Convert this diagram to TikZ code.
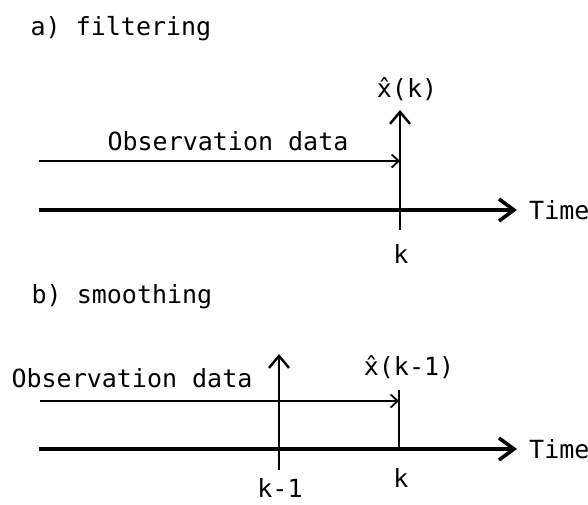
\documentclass[tikz,border=0pt]{standalone}
\usepackage{fontspec}
\setmainfont{DejaVu Sans Mono}
\usetikzlibrary{arrows.meta}
\begin{document}
\begin{tikzpicture}[x=1pt,y=-1pt,
  lbl/.style={font=\fontsize{25}{30}\selectfont, inner sep=0pt, anchor=base},
  axisline/.style={line width=4pt, -{Straight Barb[length=15pt,width=22pt,line width=3.6pt]}},
  obsline/.style={line width=1.8pt, -{Straight Barb[length=7pt,width=13pt,line width=1.8pt]}},
  estline/.style={line width=2.4pt, -{Straight Barb[length=12pt,width=20pt,line width=2.4pt]}},
  tickline/.style={line width=2.4pt}]
\path[use as bounding box] (0,0) rectangle (588,504);
% ---------- a) filtering ----------
\node[lbl] (titleA) at (121,35) {a) filtering};
\coordinate (axA0) at (39,210);
\coordinate (axA1) at (517,210);
\draw[axisline] (axA0) -- (axA1);
\node[lbl, anchor=base west] (timeA) at (529,219) {Time};
\coordinate (obA0) at (39,161);
\coordinate (obA1) at (400,161);
\draw[obsline] (obA0) -- (obA1);
\coordinate (vA0) at (400,230);
\coordinate (vA1) at (400,110);
\draw[estline] (vA0) -- (vA1);
\node[lbl] (obsA) at (228,150) {Observation data};
\node[lbl] (xk) at (407,97) {\^{x}(k)};
\node[lbl] (kA) at (401,263) {k};
% ---------- b) smoothing ----------
\node[lbl] (titleB) at (122,303) {b) smoothing};
\coordinate (axB0) at (39,449);
\coordinate (axB1) at (517,449);
\draw[axisline] (axB0) -- (axB1);
\node[lbl, anchor=base west] (timeB) at (529,458) {Time};
\coordinate (obB0) at (40,401);
\coordinate (obB1) at (399,401);
\draw[obsline] (obB0) -- (obB1);
\coordinate (vB0) at (279,470);
\coordinate (vB1) at (279,354);
\draw[estline] (vB0) -- (vB1);
\coordinate (tB0) at (399,449);
\coordinate (tB1) at (399,390);
\draw[tickline] (tB0) -- (tB1);
\node[lbl] (obsB) at (132,387) {Observation data};
\node[lbl] (xkm) at (409,375) {\^{x}(k-1)};
\node[lbl] (kB) at (401,487) {k};
\node[lbl] (kmB) at (280,497) {k-1};
\end{tikzpicture}
\end{document}
